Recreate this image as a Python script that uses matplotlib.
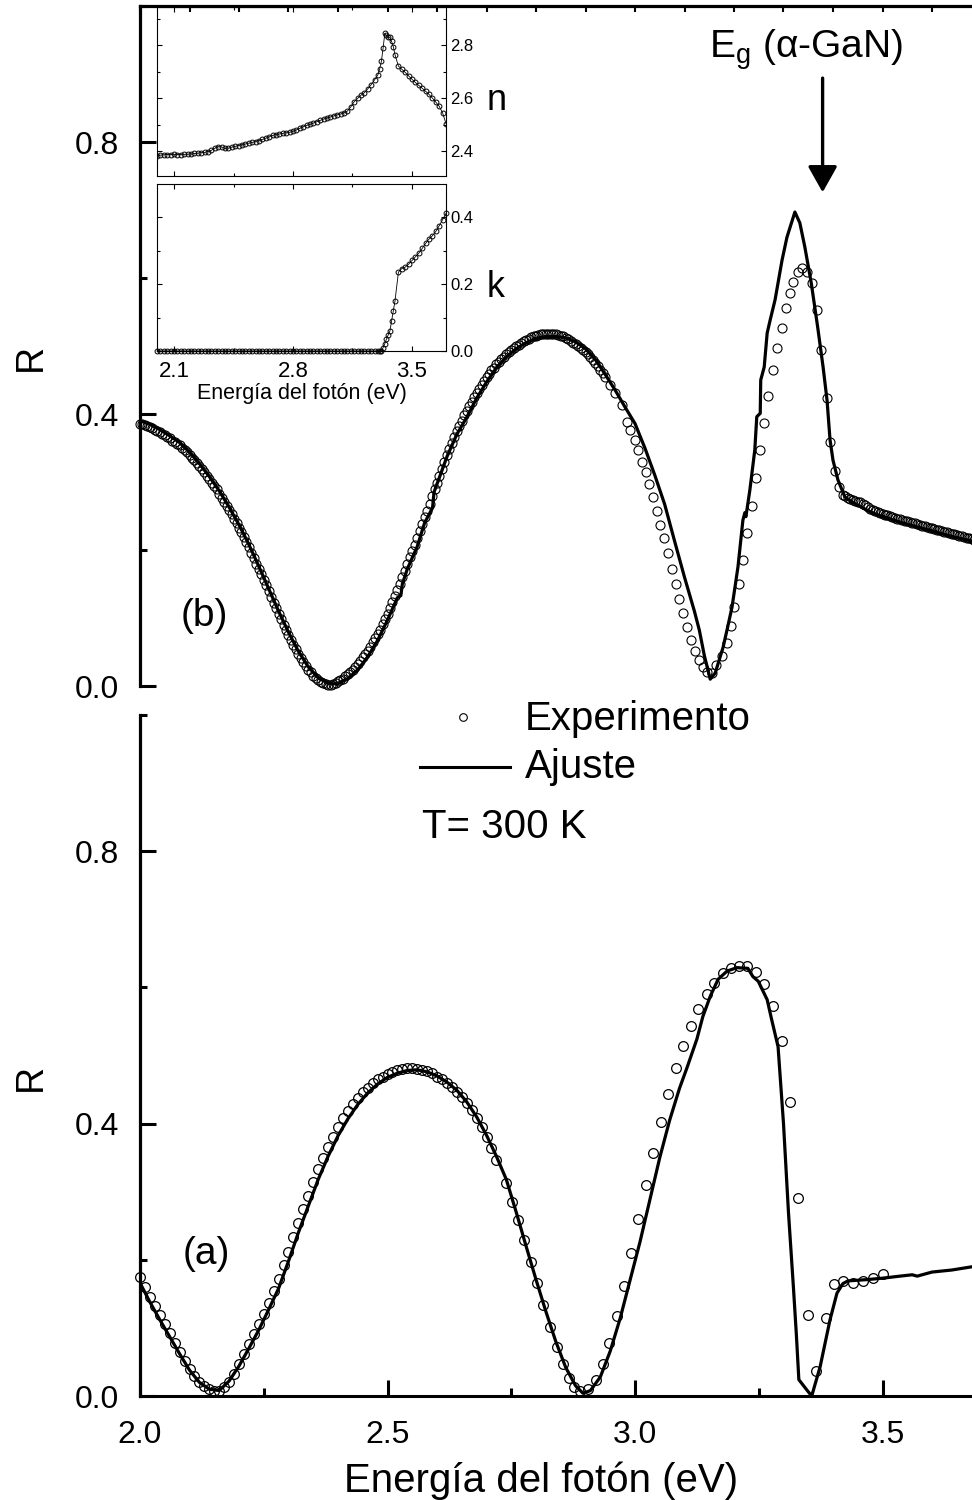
import matplotlib
matplotlib.use('Agg')
import matplotlib.pyplot as plt
from matplotlib.ticker import FixedLocator, FormatStrFormatter
from matplotlib.lines import Line2D

plt.rcParams['font.family'] = ['Liberation Sans', 'DejaVu Sans']
plt.rcParams['mathtext.fontset'] = 'custom'
plt.rcParams['mathtext.rm'] = 'Liberation Sans'
plt.rcParams['mathtext.it'] = 'Liberation Sans:italic'

# ---------------- DATA ----------------
# Panel (b): fit line
fitb_E = [2.00, 2.02, 2.04, 2.06, 2.08, 2.10, 2.12, 2.14, 2.16, 2.18,
          2.20, 2.22, 2.24, 2.26, 2.28, 2.30, 2.32, 2.34, 2.36, 2.38,
          2.39, 2.40, 2.42, 2.44, 2.46, 2.48, 2.50, 2.52, 2.527, 2.53,
          2.54, 2.56, 2.575, 2.591, 2.594, 2.62, 2.64, 2.66, 2.68, 2.70,
          2.72, 2.74, 2.76, 2.78, 2.80, 2.82, 2.84, 2.86, 2.88, 2.90,
          2.92, 2.94, 2.96, 2.98, 3.00, 3.02, 3.04, 3.06, 3.08, 3.10,
          3.12, 3.13, 3.14, 3.152, 3.162, 3.17, 3.178, 3.187, 3.196, 3.208,
          3.218, 3.222, 3.224, 3.232, 3.242, 3.246, 3.253, 3.254, 3.261, 3.267,
          3.273, 3.283, 3.297, 3.307, 3.323, 3.333, 3.343, 3.356, 3.369, 3.38,
          3.388, 3.394, 3.40, 3.41, 3.424, 3.44, 3.455, 3.47, 3.489, 3.51,
          3.535, 3.56, 3.58, 3.602, 3.62, 3.64, 3.67, 3.70]
fitb_R = [.390, .385, .377, .368, .358, .344, .327, .308, .287, .263,
          .237, .208, .176, .143, .110, .079, .051, .028, .012, .004,
          .003, .004, .011, .024, .043, .067, .097, .130, .133, .150,
          .172, .205, .240, .262, .285, .337, .370, .395, .423, .447,
          .468, .484, .496, .505, .511, .514, .514, .512, .506, .496,
          .480, .458, .435, .410, .386, .350, .310, .267, .213, .160,
          .110, .082, .045, .010, .019, .038, .057, .086, .116, .175,
          .244, .255, .249, .288, .347, .396, .401, .450, .469, .519,
          .538, .568, .626, .660, .697, .681, .646, .593, .528, .469,
          .420, .362, .332, .303, .278, .270, .264, .258, .252, .247,
          .241, .236, .232, .228, .224, .220, .215, .210]

# Panel (b): experiment (dense low-energy part, sparse band-gap part, dense tail)
expb_E = [2.000, 2.005, 2.010, 2.015, 2.020, 2.025, 2.030, 2.035, 2.040, 2.045,
          2.050, 2.055, 2.060, 2.065, 2.070, 2.075, 2.080, 2.085, 2.090, 2.095,
          2.100, 2.105, 2.110, 2.115, 2.120, 2.125, 2.130, 2.135, 2.140, 2.145,
          2.150, 2.155, 2.160, 2.165, 2.170, 2.175, 2.180, 2.185, 2.190, 2.195,
          2.200, 2.205, 2.210, 2.215, 2.220, 2.225, 2.230, 2.235, 2.240, 2.245,
          2.250, 2.255, 2.260, 2.265, 2.270, 2.275, 2.280, 2.285, 2.290, 2.295,
          2.300, 2.305, 2.310, 2.315, 2.320, 2.325, 2.330, 2.335, 2.340, 2.345,
          2.350, 2.355, 2.360, 2.365, 2.370, 2.375, 2.380, 2.385, 2.390, 2.395,
          2.400, 2.405, 2.410, 2.415, 2.420, 2.425, 2.430, 2.435, 2.440, 2.445,
          2.450, 2.455, 2.460, 2.465, 2.470, 2.475, 2.480, 2.485, 2.490, 2.495,
          2.500, 2.505, 2.510, 2.515, 2.520, 2.525, 2.530, 2.535, 2.540, 2.545,
          2.550, 2.555, 2.560, 2.565, 2.570, 2.575, 2.580, 2.585, 2.590, 2.595,
          2.600, 2.605, 2.610, 2.615, 2.620, 2.625, 2.630, 2.635, 2.640, 2.645,
          2.650, 2.655, 2.660, 2.665, 2.670, 2.675, 2.680, 2.685, 2.690, 2.695,
          2.700, 2.705, 2.710, 2.715, 2.720, 2.725, 2.730, 2.735, 2.740, 2.745,
          2.750, 2.755, 2.760, 2.765, 2.770, 2.775, 2.780, 2.785, 2.790, 2.795,
          2.800, 2.805, 2.810, 2.815, 2.820, 2.825, 2.830, 2.835, 2.840, 2.845,
          2.850, 2.855, 2.860, 2.865, 2.870, 2.875, 2.880, 2.885, 2.890, 2.895,
          2.900, 2.905, 2.910, 2.915, 2.920, 2.925, 2.930, 2.935, 2.940,
          2.949, 2.960, 2.974, 2.984, 2.990, 3.000, 3.006, 3.014, 3.022, 3.028,
          3.036, 3.044, 3.051, 3.059, 3.067, 3.075, 3.083, 3.089, 3.097, 3.105,
          3.113, 3.121, 3.129, 3.137, 3.145, 3.156, 3.164, 3.176, 3.186, 3.194,
          3.200, 3.210, 3.218, 3.226, 3.236, 3.244, 3.253, 3.261, 3.269, 3.279,
          3.287, 3.297, 3.305, 3.313, 3.319, 3.329, 3.337, 3.347, 3.358, 3.368,
          3.376, 3.388, 3.394, 3.404, 3.412, 3.420,
          3.425, 3.430, 3.435, 3.440, 3.445, 3.450, 3.455, 3.460, 3.465, 3.470,
          3.475, 3.480, 3.485, 3.490, 3.495, 3.500, 3.505, 3.510, 3.515, 3.520,
          3.525, 3.530, 3.535, 3.540, 3.545, 3.550, 3.555, 3.560, 3.565, 3.570,
          3.575, 3.580, 3.585, 3.590, 3.595, 3.600, 3.605, 3.610, 3.615, 3.620,
          3.625, 3.630, 3.635, 3.640, 3.645, 3.650, 3.655, 3.660, 3.665, 3.670,
          3.675, 3.680, 3.685, 3.690, 3.695, 3.700]
expb_R = [.386, .385, .384, .383, .381, .379, .377, .375, .373, .371,
          .369, .366, .364, .361, .359, .356, .354, .350, .347, .344,
          .340, .336, .332, .328, .323, .319, .314, .309, .304, .299,
          .294, .289, .283, .277, .271, .265, .259, .253, .246, .240,
          .233, .226, .219, .212, .204, .196, .188, .180, .172, .164,
          .156, .148, .139, .131, .122, .114, .106, .098, .090, .083,
          .075, .068, .061, .054, .047, .041, .035, .030, .024, .020,
          .015, .012, .009, .006, .004, .003, .002, .002, .003, .005,
          .007, .009, .011, .014, .017, .020, .024, .028, .032, .037,
          .042, .047, .052, .058, .064, .070, .076, .083, .091, .098,
          .106, .115, .123, .132, .141, .150, .160, .169, .179, .189,
          .198, .208, .218, .228, .238, .248, .258, .268, .279, .289,
          .299, .309, .319, .329, .339, .348, .357, .366, .375, .383,
          .390, .398, .405, .412, .418, .425, .431, .437, .443, .448,
          .454, .459, .464, .468, .473, .477, .481, .484, .488, .491,
          .494, .497, .500, .502, .505, .507, .509, .511, .513, .514,
          .515, .516, .517, .518, .518, .518, .518, .518, .517, .516,
          .515, .514, .512, .510, .508, .505, .503, .500, .497, .494,
          .491, .488, .484, .480, .475, .470, .465, .460, .454,
          .443, .431, .413, .388, .376, .362, .347, .329, .315, .297,
          .278, .257, .237, .218, .196, .172, .150, .128, .107, .087,
          .068, .051, .038, .028, .021, .019, .031, .044, .063, .088,
          .116, .150, .185, .225, .265, .306, .347, .387, .426, .465,
          .497, .526, .556, .578, .594, .609, .615, .609, .593, .553,
          .494, .423, .359, .316, .293, .281,
          .279, .277, .275, .273, .272, .271, .270, .268, .266, .263,
          .261, .259, .258, .256, .255, .253, .252, .251, .250, .249,
          .247, .246, .245, .244, .243, .242, .241, .240, .239, .238,
          .237, .236, .235, .234, .233, .232, .231, .230, .229, .228,
          .227, .226, .225, .224, .223, .222, .221, .220, .219, .218,
          .217, .216, .215, .214, .213, .212]

# Panel (a): fit line
fita_E = [2.00, 2.02, 2.04, 2.06, 2.08, 2.10, 2.12, 2.14, 2.16, 2.18,
          2.20, 2.22, 2.24, 2.26, 2.28, 2.30, 2.32, 2.34, 2.36, 2.38,
          2.40, 2.42, 2.44, 2.46, 2.48, 2.50, 2.52, 2.54, 2.56, 2.58,
          2.60, 2.62, 2.64, 2.66, 2.68, 2.70, 2.72, 2.74, 2.76, 2.78,
          2.80, 2.82, 2.84, 2.86, 2.88, 2.895, 2.91, 2.93, 2.95, 2.97,
          2.99, 3.01, 3.03, 3.05, 3.07, 3.09, 3.105, 3.125, 3.137, 3.152,
          3.168, 3.186, 3.206, 3.228, 3.238, 3.249, 3.267, 3.276, 3.289, 3.300,
          3.310, 3.320, 3.326, 3.331, 3.347, 3.357, 3.374, 3.394, 3.408, 3.42,
          3.43, 3.47, 3.50, 3.535, 3.56, 3.57, 3.58, 3.60, 3.64, 3.70]
fita_R = [.166, .138, .112, .087, .062, .038, .020, .010, .008, .022,
          .044, .070, .097, .127, .158, .198, .240, .279, .318, .352,
          .382, .407, .428, .445, .458, .468, .474, .478, .479, .476,
          .470, .461, .449, .432, .410, .383, .352, .318, .270, .220,
          .171, .124, .080, .042, .015, .004, .008, .028, .066, .114,
          .170, .226, .288, .350, .405, .452, .482, .524, .557, .587,
          .612, .624, .629, .628, .616, .609, .582, .553, .513, .400,
          .270, .160, .090, .024, .009, .000, .043, .112, .151, .165,
          .169, .171, .173, .176, .178, .176, .178, .182, .185, .192]

# Panel (a): experiment
expa_E = [2.00, 2.01, 2.02, 2.03, 2.04, 2.05, 2.06, 2.07, 2.08, 2.09,
          2.10, 2.11, 2.12, 2.13, 2.14, 2.15, 2.16, 2.17, 2.18, 2.19,
          2.20, 2.21, 2.22, 2.23, 2.24, 2.25, 2.26, 2.27, 2.28, 2.29,
          2.30, 2.31, 2.32, 2.33, 2.34, 2.35, 2.36, 2.37, 2.38, 2.39,
          2.40, 2.41, 2.42, 2.43, 2.44, 2.45, 2.46, 2.47, 2.48, 2.49,
          2.50, 2.51, 2.52, 2.53, 2.54, 2.55, 2.56, 2.57, 2.58, 2.59,
          2.60, 2.61, 2.62, 2.63, 2.64, 2.65, 2.66, 2.67, 2.68, 2.69,
          2.70, 2.71, 2.72,
          2.739, 2.752, 2.764, 2.776, 2.790, 2.802, 2.815, 2.828, 2.842, 2.855,
          2.867, 2.877, 2.889, 2.906, 2.921, 2.935, 2.948, 2.963, 2.978, 2.992,
          3.007, 3.022, 3.037, 3.052, 3.066, 3.083, 3.097, 3.113, 3.128, 3.145,
          3.160, 3.178, 3.194, 3.210, 3.227, 3.244, 3.261, 3.278, 3.296, 3.313,
          3.330, 3.349, 3.365, 3.385, 3.402, 3.420, 3.440, 3.461, 3.481, 3.500]
expa_R = [.175, .160, .146, .132, .119, .105, .092, .078, .065, .052,
          .040, .030, .021, .014, .010, .008, .008, .013, .021, .033,
          .047, .061, .076, .091, .106, .121, .137, .154, .172, .192,
          .212, .233, .254, .274, .294, .314, .333, .350, .366, .381,
          .395, .408, .419, .429, .438, .446, .453, .459, .465, .469,
          .473, .476, .478, .480, .481, .482, .480, .479, .477, .474,
          .469, .465, .460, .454, .447, .439, .430, .420, .408, .395,
          .380, .364, .346,
          .313, .285, .259, .229, .197, .166, .134, .101, .072, .047,
          .026, .013, .008, .010, .024, .047, .078, .118, .162, .210,
          .260, .310, .357, .403, .444, .481, .514, .543, .569, .590,
          .607, .621, .628, .632, .631, .622, .605, .572, .521, .432,
          .291, .119, .037, .115, .165, .169, .166, .169, .174, .179]

# Inset: optical constants n and k
inset_E = [2.00, 2.02, 2.04, 2.06, 2.08, 2.10, 2.12, 2.14, 2.16, 2.18,
           2.20, 2.22, 2.24, 2.26, 2.28, 2.30, 2.32, 2.34, 2.36, 2.38,
           2.40, 2.42, 2.44, 2.46, 2.48, 2.50, 2.52, 2.54, 2.56, 2.58,
           2.60, 2.62, 2.64, 2.66, 2.68, 2.70, 2.72, 2.74, 2.76, 2.78,
           2.80, 2.82, 2.84, 2.86, 2.88, 2.90, 2.92, 2.94, 2.96, 2.98,
           3.00, 3.02, 3.04, 3.06, 3.08, 3.10, 3.12, 3.14, 3.16, 3.18,
           3.20, 3.22, 3.24, 3.26, 3.28, 3.30,
           3.31, 3.32, 3.33, 3.34, 3.35, 3.36, 3.37, 3.38, 3.39, 3.40,
           3.42, 3.44, 3.46, 3.48, 3.50, 3.52, 3.54, 3.56, 3.58, 3.60,
           3.62, 3.64, 3.66, 3.68, 3.70]
inset_n = [2.384, 2.386, 2.387, 2.388, 2.388, 2.389, 2.388, 2.388, 2.389, 2.389,
           2.390, 2.392, 2.393, 2.395, 2.396, 2.399, 2.404, 2.412, 2.418, 2.417,
           2.411, 2.412, 2.416, 2.419, 2.422, 2.425, 2.428, 2.431, 2.434, 2.437,
           2.441, 2.445, 2.450, 2.455, 2.460, 2.463, 2.466, 2.468, 2.470, 2.472,
           2.476, 2.481, 2.487, 2.493, 2.498, 2.502, 2.507, 2.512, 2.517, 2.522,
           2.526, 2.530, 2.534, 2.538, 2.541, 2.546, 2.552, 2.568, 2.588, 2.600,
           2.612, 2.622, 2.636, 2.652, 2.670, 2.690,
           2.712, 2.740, 2.790, 2.845, 2.838, 2.832, 2.830, 2.815, 2.795, 2.765,
           2.722, 2.710, 2.698, 2.685, 2.672, 2.660, 2.649, 2.638, 2.627, 2.615,
           2.601, 2.586, 2.570, 2.545, 2.505]
inset_k = [0, 0, 0, 0, 0, 0, 0, 0, 0, 0,
           0, 0, 0, 0, 0, 0, 0, 0, 0, 0,
           0, 0, 0, 0, 0, 0, 0, 0, 0, 0,
           0, 0, 0, 0, 0, 0, 0, 0, 0, 0,
           0, 0, 0, 0, 0, 0, 0, 0, 0, 0,
           0, 0, 0, 0, 0, 0, 0, 0, 0, 0,
           0, 0, 0, 0, 0, 0,
           0.000, 0.001, 0.010, 0.022, 0.036, 0.048, 0.060, 0.090, 0.120, 0.150,
           0.236, 0.247, 0.251, 0.260, 0.271, 0.282, 0.293, 0.307, 0.322, 0.335,
           0.345, 0.358, 0.375, 0.393, 0.412]

r_major = [0.0, 0.4, 0.8]
r_minor = [0.2, 0.6, 1.0]
e_major = [2.0, 2.5, 3.0, 3.5]
e_minor = [2.25, 2.75, 3.25]
top_ticks = [2.0, 2.1, 2.2, 2.3, 2.4, 2.5, 2.6, 2.7, 2.8, 2.9,
             3.0, 3.1, 3.2, 3.3, 3.4, 3.5, 3.6, 3.7]
inset_e_major = [2.1, 2.8, 3.5]
inset_e_minor = [2.45, 3.15]

# ---------------- FIGURE ----------------
W, H = 972, 1500
fig = plt.figure(figsize=(9.72, 15), dpi=100)


def fx(px):
    return px / W


def fy(py):
    return 1 - py / H


X0 = 140
X1 = 140 + 1.7 * 495  # E = 3.7
axb = fig.add_axes([fx(X0), fy(686), (X1 - X0) / W, (686 - 6) / H])
axa = fig.add_axes([fx(X0), fy(1396), (X1 - X0) / W, (1396 - 715) / H])

for ax in (axa, axb):
    ax.set_xlim(2.0, 3.7)
    ax.set_ylim(0.0, 1.0)
    ax.yaxis.set_major_locator(FixedLocator(r_major))
    ax.yaxis.set_minor_locator(FixedLocator(r_minor))
    ax.yaxis.set_major_formatter(FormatStrFormatter('%.1f'))
    ax.tick_params(axis='y', which='major', direction='in', length=11.3,
                   width=2.2, labelsize=23, pad=15)
    ax.tick_params(axis='y', which='minor', direction='in', length=4.8, width=2.2)
    ax.tick_params(axis='y', which='both', right=False)
    ax.spines['left'].set_linewidth(2.3)
    ax.spines['right'].set_visible(False)

# bottom panel x axis
axa.spines['top'].set_visible(False)
axa.spines['bottom'].set_linewidth(2.2)
axa.xaxis.set_major_locator(FixedLocator(e_major))
axa.xaxis.set_minor_locator(FixedLocator(e_minor))
axa.xaxis.set_major_formatter(FormatStrFormatter('%.1f'))
axa.tick_params(axis='x', which='major', direction='in', length=11.5, width=2.2,
                labelsize=23, pad=17, top=False)
axa.tick_params(axis='x', which='minor', direction='in', length=5.5, width=2.2, top=False)

# top panel: top spine with 0.1 ticks, no bottom spine
axb.spines['bottom'].set_visible(False)
axb.spines['top'].set_linewidth(2.3)
axb.xaxis.set_major_locator(FixedLocator(top_ticks))
axb.tick_params(axis='x', which='both', bottom=False, top=True, labelbottom=False,
                labeltop=False, direction='in', length=4, width=1.5)

# data
axb.plot(expb_E, expb_R, linestyle='none', marker='o', ms=6.5, mfc='none',
         mec='black', mew=0.8, zorder=2, clip_on=False)
axb.plot(fitb_E, fitb_R, color='black', lw=2.3, zorder=3)
axa.plot(expa_E, expa_R, linestyle='none', marker='o', ms=7, mfc='none',
         mec='black', mew=0.9, zorder=2, clip_on=False)
axa.plot(fita_E, fita_R, color='black', lw=2.3, zorder=3)

axb.text(2.129, 0.103, '(b)', fontsize=28, ha='center', va='center')
axa.text(2.133, 0.209, '(a)', fontsize=28, ha='center', va='center')

# E_g annotation
axb.text(3.346, 0.9235, r'E$_{\mathrm{g}}$ (α-GaN)', fontsize=28,
         ha='center', va='baseline')
axb.annotate('', xy=(3.379, 0.726), xytext=(3.379, 0.894),
             arrowprops=dict(arrowstyle='-|>,head_length=0.8,head_width=0.45',
                             color='black', lw=2.4, shrinkA=0, shrinkB=0,
                             mutation_scale=20))

# axis labels
fig.text(fx(31), fy(357), 'R', rotation=90, fontsize=27, ha='center', va='center')
fig.text(fx(31), fy(1077), 'R', rotation=90, fontsize=27, ha='center', va='center')
fig.text(fx(541), fy(1492), 'Energía del fotón (eV)', fontsize=29,
         ha='center', va='baseline')

# legend
fig.add_artist(Line2D([fx(463)], [fy(717)], marker='o', ms=5.5, mfc='none',
                      mec='black', mew=0.8, linestyle='none',
                      transform=fig.transFigure))
fig.add_artist(Line2D([fx(420), fx(510)], [fy(767), fy(767)], color='black',
                      lw=2.2, transform=fig.transFigure))
fig.text(fx(525), fy(730), 'Experimento', fontsize=29, va='baseline')
fig.text(fx(525), fy(778), 'Ajuste', fontsize=29, va='baseline')
fig.text(fx(422), fy(838), 'T= 300 K', fontsize=29, va='baseline')

# ---------------- INSET ----------------
axn = fig.add_axes([fx(157), fy(176), (446 - 157) / W, (176 - 7) / H])
axk = fig.add_axes([fx(157), fy(351), (446 - 157) / W, (351 - 184) / H])
for ax in (axn, axk):
    ax.set_facecolor('none')
    ax.set_xlim(2.0, 3.7)
    for s in ax.spines.values():
        s.set_linewidth(0.8)
    ax.xaxis.set_major_locator(FixedLocator(inset_e_major))
    ax.xaxis.set_minor_locator(FixedLocator(inset_e_minor))
    ax.tick_params(which='both', direction='in', top=True, bottom=True,
                   left=True, right=True, labelleft=False, labelright=True,
                   width=0.8)
    ax.tick_params(which='major', length=3.5)
    ax.tick_params(which='minor', length=2.5)
    ax.tick_params(axis='y', labelsize=12, pad=3)
    ax.yaxis.set_major_formatter(FormatStrFormatter('%.1f'))

axn.set_ylim(2.307, 2.945)
axn.yaxis.set_major_locator(FixedLocator([2.4, 2.6, 2.8]))
axn.yaxis.set_minor_locator(FixedLocator([2.5, 2.7, 2.9]))
axn.tick_params(axis='x', labelbottom=False)

axk.set_ylim(0.0, 0.5)
axk.yaxis.set_major_locator(FixedLocator([0.0, 0.2, 0.4]))
axk.yaxis.set_minor_locator(FixedLocator([0.1, 0.3]))
axk.xaxis.set_major_formatter(FormatStrFormatter('%.1f'))
axk.tick_params(axis='x', labelsize=16, pad=7)
axk.set_xlabel('Energía del fotón (eV)', fontsize=15.5, labelpad=1)

axn.plot(inset_E, inset_n, color='black', lw=0.6, marker='o', ms=3.5,
         mfc='none', mec='black', mew=0.7)
axk.plot(inset_E, inset_k, color='black', lw=0.6, marker='o', ms=3.5,
         mfc='none', mec='black', mew=0.7, clip_on=False)

fig.text(fx(487), fy(110), 'n', fontsize=26, va='baseline')
fig.text(fx(487), fy(297), 'k', fontsize=26, va='baseline')

fig.savefig('out.png', dpi=100)
